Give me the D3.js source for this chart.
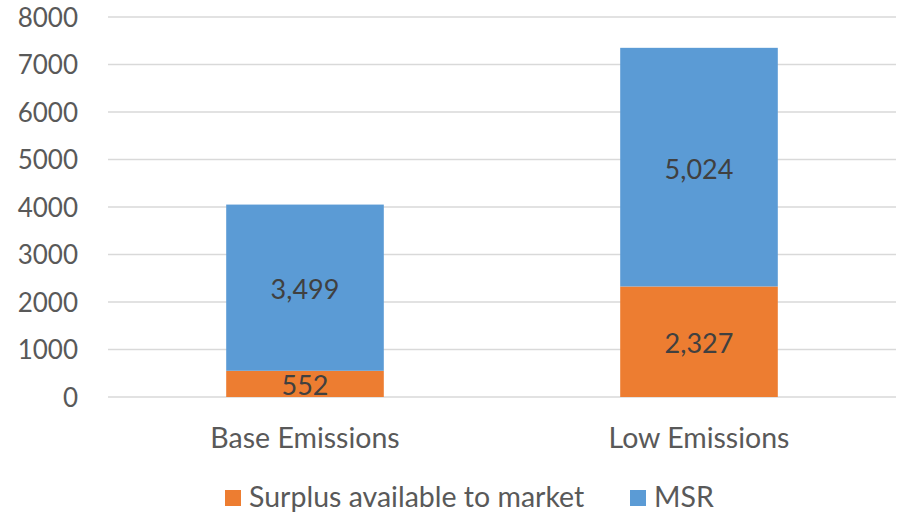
<!DOCTYPE html>
<html>
<head>
<meta charset="utf-8">
<script src="https://cdn.jsdelivr.net/npm/d3@7/dist/d3.min.js"></script>
<style>
  html, body { margin: 0; padding: 0; background: #fff; }
  svg { display: block; font-family: Lato, "Open Sans", sans-serif; }
</style>
</head>
<body>
<svg id="chart" width="899" height="515"></svg>
<script>
// Scenario categories and stacked series values
const categories = ["Base Emissions", "Low Emissions"];
const surplus = [552, 2327];
const msr = [3499, 5024];
const seriesNames = ["Surplus available to market", "MSR"];
const yTicks = [0, 1000, 2000, 3000, 4000, 5000, 6000, 7000, 8000];

const colors = { surplus: "#ED7D31", msr: "#5B9BD5" };

const svg = d3.select("#chart");
const plot = { left: 108, right: 896, top: 17, bottom: 397 };

const x = d3.scaleBand()
  .domain(categories)
  .range([plot.left, plot.right])
  .paddingInner(0.6)
  .paddingOuter(0.3);

const y = d3.scaleLinear()
  .domain([0, 8000])
  .range([plot.bottom, plot.top]);

// Horizontal gridlines
svg.append("g")
  .selectAll("line")
  .data(yTicks)
  .join("line")
  .attr("x1", plot.left)
  .attr("x2", plot.right)
  .attr("y1", d => y(d))
  .attr("y2", d => y(d))
  .attr("stroke", "#D9D9D9")
  .attr("stroke-width", 1.3);

// Y axis labels
const yAxis = d3.axisLeft(y).tickValues(yTicks).tickSize(0).tickPadding(0).tickFormat(d3.format("d"));
svg.append("g")
  .attr("transform", "translate(78,0)")
  .call(yAxis)
  .call(g => g.select(".domain").remove())
  .call(g => g.selectAll("text")
    .attr("fill", "#595959")
    .style("font-size", "26px")
    .style("font-family", "Lato, sans-serif")
    .attr("dy", "0.35em"));

// Stacked data
const rows = categories.map((c, i) => ({ cat: c, surplus: surplus[i], msr: msr[i] }));
const stack = d3.stack().keys(["surplus", "msr"])(rows);

const layers = svg.append("g")
  .selectAll("g")
  .data(stack)
  .join("g")
  .attr("fill", d => colors[d.key]);

layers.selectAll("rect")
  .data(d => d)
  .join("rect")
  .attr("x", d => x(d.data.cat))
  .attr("width", x.bandwidth())
  .attr("y", d => y(d[1]))
  .attr("height", d => y(d[0]) - y(d[1]));

// Value labels centred in each segment
const fmt = d3.format(",");
svg.append("g")
  .selectAll("g")
  .data(stack)
  .join("g")
  .selectAll("text")
  .data(d => d.map(p => ({ p, key: d.key })))
  .join("text")
  .attr("x", d => x(d.p.data.cat) + x.bandwidth() / 2)
  .attr("y", d => (y(d.p[0]) + y(d.p[1])) / 2 + 2)
  .attr("dy", "0.35em")
  .attr("text-anchor", "middle")
  .attr("fill", "#404040")
  .style("font-size", "27px")
  .text(d => fmt(d.p.data[d.key]));

// Category axis labels
svg.append("g")
  .selectAll("text")
  .data(categories)
  .join("text")
  .attr("x", d => x(d) + x.bandwidth() / 2)
  .attr("y", 448)
  .attr("text-anchor", "middle")
  .attr("fill", "#595959")
  .style("font-size", "28.5px")
  .text(d => d);

// Legend
const legendItems = [
  { name: seriesNames[0], color: colors.surplus, x: 225 },
  { name: seriesNames[1], color: colors.msr, x: 630 }
];
const lg = svg.append("g")
  .selectAll("g")
  .data(legendItems)
  .join("g")
  .attr("transform", d => `translate(${d.x},490)`);
lg.append("rect")
  .attr("width", 16)
  .attr("height", 16)
  .attr("fill", d => d.color);
lg.append("text")
  .attr("x", 24)
  .attr("y", 17)
  .attr("fill", "#595959")
  .style("font-size", "28.5px")
  .text(d => d.name);
</script>
</body>
</html>
